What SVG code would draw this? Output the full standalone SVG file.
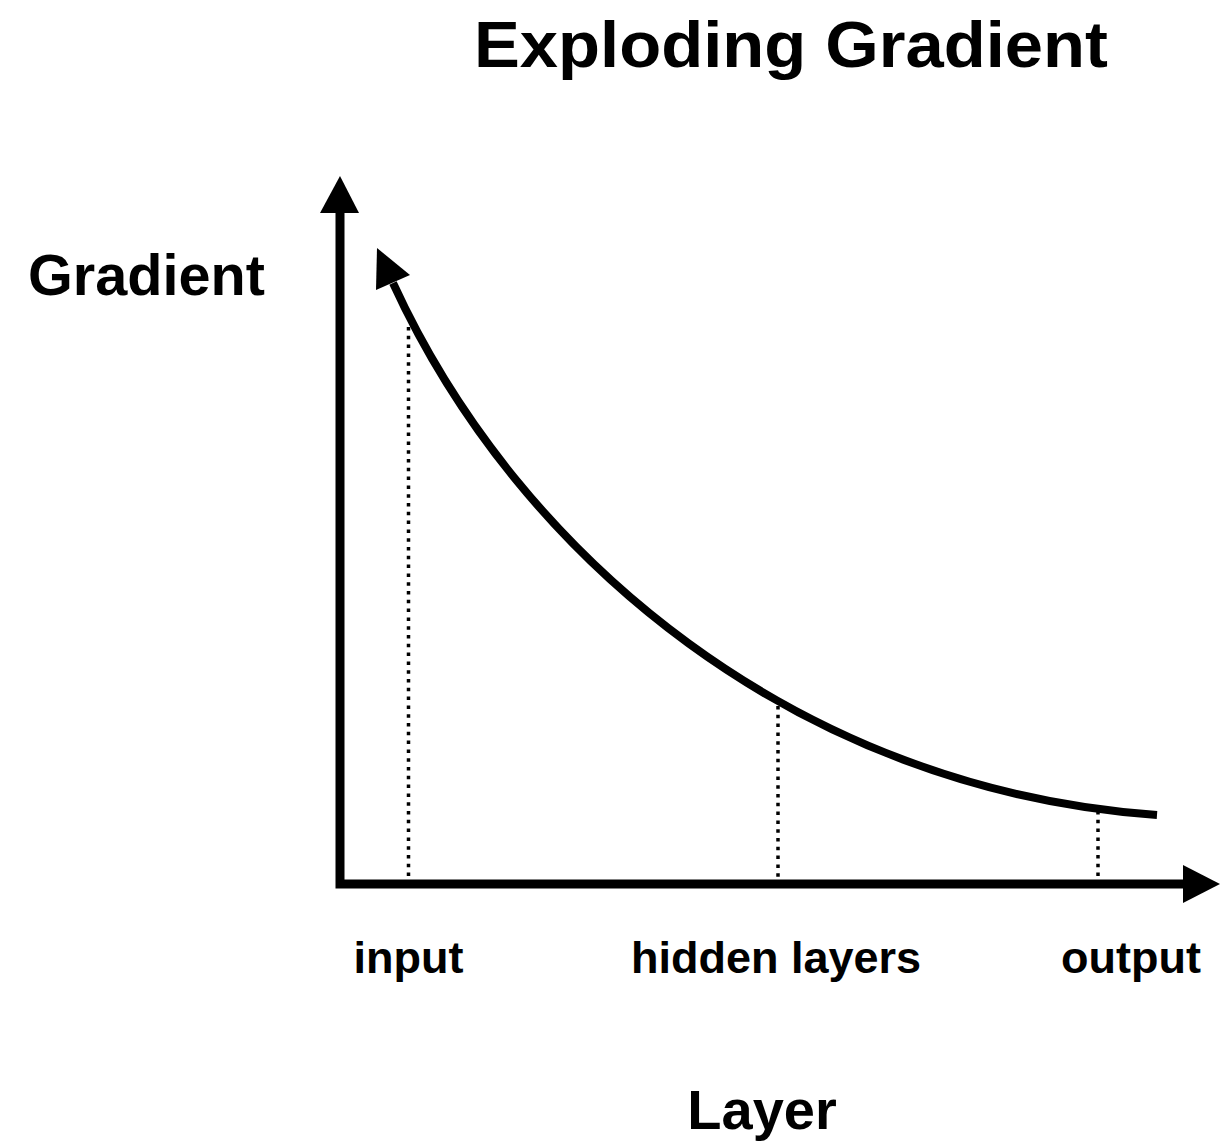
<svg xmlns="http://www.w3.org/2000/svg" width="1223" height="1142" viewBox="0 0 1223 1142">
  <style>
    text { font-family: "Liberation Sans", Arial, sans-serif; font-weight: bold; fill: #000; }
    .axis { stroke: #000; stroke-width: 9; fill: none; }
    .curve { stroke: #000; stroke-width: 8; fill: none; }
    .dot { stroke: #000; stroke-width: 3.5; stroke-dasharray: 3.5 5.3; fill: none; }
    .head { fill: #000; stroke: none; }
  </style>
  <rect width="1223" height="1142" fill="#fff"/>
  <g id="title">
    <text x="791" y="67" font-size="65" text-anchor="middle" textLength="634" lengthAdjust="spacingAndGlyphs">Exploding Gradient</text>
  </g>
  <g id="y-label">
    <text x="28" y="295" font-size="57" textLength="237" lengthAdjust="spacingAndGlyphs">Gradient</text>
  </g>
  <g id="x-label">
    <text x="762" y="1129" font-size="56" text-anchor="middle">Layer</text>
  </g>
  <g id="axes">
    <path class="axis" d="M340 208 V884 H1188"/>
    <polygon class="head" points="320,213 359,213 340,176"/>
    <polygon class="head" points="1183,865 1183,903 1220,884"/>
  </g>
  <g id="connectors">
    <line class="dot" x1="408.5" y1="327" x2="408.5" y2="880"/>
    <line class="dot" x1="778" y1="706" x2="778" y2="880"/>
    <line class="dot" x1="1098" y1="811" x2="1098" y2="880"/>
    <path class="curve" d="M393 283 C520 560 800 790 1157 815"/>
    <polygon class="head" points="377,248 376,290 410,275"/>
  </g>
  <g id="input">
    <text x="408.5" y="973" font-size="45" text-anchor="middle">input</text>
  </g>
  <g id="hidden">
    <text x="776" y="973" font-size="45" text-anchor="middle">hidden layers</text>
  </g>
  <g id="output">
    <text x="1131" y="973" font-size="45" text-anchor="middle">output</text>
  </g>
</svg>
